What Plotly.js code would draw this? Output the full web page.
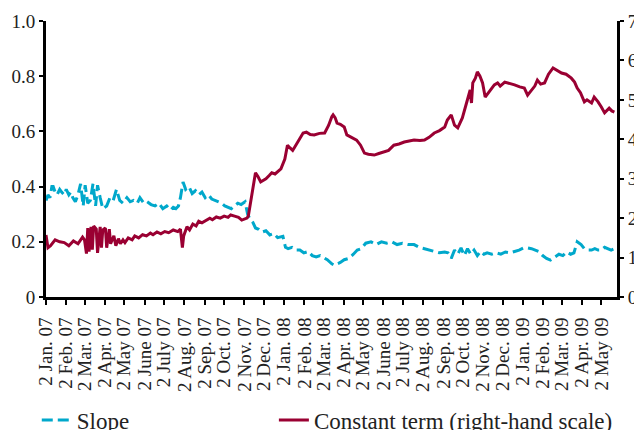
<!DOCTYPE html>
<html>
<head>
<meta charset="utf-8">
<script src="https://cdn.plot.ly/plotly-3.0.1.min.js"></script>
<style>html,body{margin:0;padding:0;background:#fff}#chart{width:634px;height:430px}</style>
</head>
<body>
<div id="chart"></div>
<script>
// Slope (left-hand scale)
const slopeDates = [
'2007-01-02','2007-01-05','2007-01-08','2007-01-11','2007-01-13','2007-01-16','2007-01-19','2007-01-23','2007-01-26','2007-01-30',
'2007-02-02','2007-02-06','2007-02-09','2007-02-12','2007-02-16','2007-02-20','2007-02-24','2007-02-28',
'2007-03-03','2007-03-07','2007-03-11','2007-03-15','2007-03-19','2007-03-22','2007-03-26','2007-03-30',
'2007-04-05','2007-04-10','2007-04-15','2007-04-20','2007-04-25','2007-04-30','2007-05-06','2007-05-11','2007-05-16','2007-05-22','2007-05-26',
'2007-06-01','2007-06-06','2007-06-12','2007-06-18','2007-06-24','2007-06-30','2007-07-06','2007-07-12','2007-07-16','2007-07-20','2007-07-24','2007-07-27',
'2007-07-31','2007-08-04','2007-08-09','2007-08-14','2007-08-19','2007-08-24','2007-08-29','2007-09-03','2007-09-08','2007-09-13','2007-09-18','2007-09-23','2007-09-28',
'2007-10-03','2007-10-08','2007-10-13','2007-10-18','2007-10-23','2007-10-28','2007-11-03','2007-11-07','2007-11-11','2007-11-15','2007-11-19','2007-11-24',
'2007-11-29','2007-12-05','2007-12-11','2007-12-17','2007-12-23','2007-12-31','2008-01-04','2008-01-08','2008-01-14','2008-01-20','2008-01-26',
'2008-02-01','2008-02-08','2008-02-14','2008-02-20','2008-02-26','2008-03-03','2008-03-08','2008-03-15','2008-03-19','2008-03-23','2008-03-28',
'2008-04-03','2008-04-10','2008-04-17','2008-04-23','2008-04-29','2008-05-06','2008-05-14','2008-05-22','2008-05-30','2008-06-07','2008-06-15','2008-06-23','2008-07-01','2008-07-10','2008-07-19',
'2008-07-27','2008-08-04','2008-08-14','2008-08-19','2008-08-27','2008-09-04','2008-09-09','2008-09-14','2008-09-19','2008-09-24','2008-09-29','2008-10-04','2008-10-09','2008-10-14','2008-10-19','2008-10-24','2008-10-29','2008-11-03','2008-11-08',
'2008-11-15','2008-11-22','2008-11-29','2008-12-06','2008-12-13','2008-12-20','2008-12-27','2009-01-03','2009-01-09','2009-01-15',
'2009-01-20','2009-01-26','2009-02-01','2009-02-07','2009-02-13','2009-02-20','2009-02-26','2009-03-04','2009-03-10','2009-03-16','2009-03-21',
'2009-03-26','2009-04-01','2009-04-06','2009-04-11','2009-04-17','2009-04-22','2009-04-27','2009-05-02','2009-05-07','2009-05-12','2009-05-17','2009-05-22'
];
const slopeValues = [
0.35,0.37,0.36,0.40,0.40,0.38,0.37,0.39,0.38,0.37,
0.39,0.37,0.38,0.36,0.345,0.37,0.41,0.33,
0.405,0.34,0.35,0.41,0.33,0.405,0.36,0.32,
0.33,0.36,0.35,0.39,0.35,0.34,0.36,0.345,0.35,0.34,0.36,
0.34,0.345,0.335,0.33,0.34,0.32,0.33,0.315,0.325,0.32,0.33,0.36,
0.417,0.39,0.40,0.375,0.385,0.37,0.38,0.36,0.37,0.355,0.35,0.345,0.34,
0.33,0.325,0.32,0.33,0.34,0.335,0.345,0.30,0.28,0.27,0.25,0.245,
0.235,0.24,0.225,0.23,0.215,0.22,0.18,0.175,0.18,0.17,0.17,
0.16,0.165,0.15,0.145,0.15,0.14,0.135,0.12,0.115,0.12,0.125,
0.135,0.14,0.155,0.17,0.175,0.195,0.2,0.19,0.2,0.195,0.2,0.19,0.195,0.19,0.19,
0.18,0.175,0.17,0.165,0.16,0.163,0.16,0.14,0.17,0.155,0.178,0.15,0.175,0.155,0.17,0.15,0.165,0.155,0.16,
0.155,0.16,0.155,0.163,0.16,0.165,0.17,0.178,0.178,0.175,
0.17,0.165,0.15,0.14,0.134,0.145,0.155,0.15,0.163,0.155,0.16,
0.2,0.19,0.175,0.17,0.17,0.175,0.17,0.17,0.18,0.175,0.17,0.175
];

// Constant term (right-hand scale)
const constDates = [
'2007-01-02','2007-01-05','2007-01-09','2007-01-16','2007-01-23','2007-01-30',
'2007-02-06','2007-02-13','2007-02-20','2007-02-27',
'2007-03-02','2007-03-05','2007-03-07','2007-03-09','2007-03-12','2007-03-14','2007-03-16','2007-03-20','2007-03-22','2007-03-26','2007-03-28','2007-03-30',
'2007-04-03','2007-04-05','2007-04-09','2007-04-11','2007-04-16','2007-04-19','2007-04-23','2007-04-26','2007-04-30',
'2007-05-03','2007-05-08','2007-05-14','2007-05-18','2007-05-24','2007-05-30',
'2007-06-05','2007-06-11','2007-06-15','2007-06-21','2007-06-27',
'2007-07-03','2007-07-09','2007-07-16','2007-07-23','2007-07-27','2007-07-30','2007-08-01',
'2007-08-06','2007-08-10','2007-08-15','2007-08-20','2007-08-24','2007-08-29',
'2007-09-04','2007-09-10','2007-09-14','2007-09-20','2007-09-26',
'2007-10-02','2007-10-08','2007-10-12','2007-10-18','2007-10-24','2007-10-29',
'2007-11-02','2007-11-06','2007-11-08','2007-11-12','2007-11-15','2007-11-19','2007-11-23','2007-11-27','2007-11-30',
'2007-12-05','2007-12-10','2007-12-14','2007-12-19','2007-12-24','2007-12-28',
'2008-01-03','2008-01-07','2008-01-11','2008-01-15','2008-01-18','2008-01-23','2008-01-28','2008-01-31',
'2008-02-05','2008-02-11','2008-02-17','2008-02-25','2008-03-04','2008-03-10','2008-03-15','2008-03-17','2008-03-20','2008-03-23','2008-03-28',
'2008-04-03','2008-04-07','2008-04-14','2008-04-22','2008-04-28','2008-05-04','2008-05-10','2008-05-19','2008-05-26',
'2008-06-03','2008-06-10','2008-06-18','2008-06-26','2008-07-04','2008-07-11','2008-07-19','2008-07-28',
'2008-08-04','2008-08-11','2008-08-19','2008-08-27','2008-09-04','2008-09-08','2008-09-14','2008-09-19','2008-09-24',
'2008-10-01','2008-10-06','2008-10-09','2008-10-13','2008-10-15','2008-10-17','2008-10-21','2008-10-24','2008-10-28',
'2008-11-01','2008-11-05','2008-11-10','2008-11-15','2008-11-19','2008-11-24','2008-11-28',
'2008-12-05','2008-12-12','2008-12-20','2008-12-28','2009-01-04','2009-01-09','2009-01-15','2009-01-20','2009-01-24','2009-01-29',
'2009-02-04','2009-02-10','2009-02-17','2009-02-23','2009-03-02','2009-03-09','2009-03-17','2009-03-22','2009-03-26','2009-03-31',
'2009-04-06','2009-04-10','2009-04-17','2009-04-21','2009-04-27','2009-05-02','2009-05-07','2009-05-14','2009-05-18','2009-05-22'
];
const constValues = [
1.57,1.25,1.30,1.45,1.40,1.38,
1.30,1.42,1.35,1.52,
1.45,1.10,1.75,1.15,1.78,1.20,1.80,1.72,1.12,1.78,1.25,1.70,
1.75,1.25,1.72,1.35,1.55,1.30,1.48,1.35,1.45,
1.38,1.50,1.45,1.55,1.50,1.58,
1.55,1.62,1.58,1.65,1.60,
1.66,1.63,1.70,1.66,1.72,1.25,1.55,
1.78,1.70,1.85,1.80,1.92,1.88,
1.95,2.00,1.96,2.03,2.00,
2.05,2.02,2.08,2.05,2.02,1.95,
1.98,2.00,2.05,2.45,2.80,3.15,3.05,2.92,2.95,
3.00,3.08,3.15,3.12,3.20,3.25,
3.50,3.85,3.78,3.72,3.80,3.95,4.10,4.16,
4.18,4.12,4.11,4.15,4.16,4.35,4.57,4.62,4.55,4.41,4.38,
4.31,4.11,4.05,3.98,3.85,3.65,3.62,3.60,3.64,
3.68,3.72,3.85,3.88,3.93,3.95,3.98,3.97,
3.98,4.05,4.16,4.22,4.31,4.49,4.62,4.36,4.29,
4.54,4.85,5.07,5.25,4.92,5.43,5.55,5.71,5.60,
5.43,5.07,5.18,5.30,5.38,5.43,5.35,
5.45,5.42,5.38,5.33,5.30,5.12,5.25,5.35,5.50,5.40,
5.43,5.65,5.81,5.75,5.68,5.65,5.55,5.45,5.30,5.18,
4.95,5.00,4.92,5.07,4.95,4.82,4.67,4.79,4.72,4.69
];

// Tick labels
const tickDates = [
'2007-01-02','2007-02-02','2007-03-02','2007-04-02','2007-05-02','2007-06-02','2007-07-02','2007-08-02','2007-09-02','2007-10-02','2007-11-02','2007-12-02',
'2008-01-02','2008-02-02','2008-03-02','2008-04-02','2008-05-02','2008-06-02','2008-07-02','2008-08-02','2008-09-02','2008-10-02','2008-11-02','2008-12-02',
'2009-01-02','2009-02-02','2009-03-02','2009-04-02','2009-05-02'
];
const tickLabels = [
'2 Jan. 07','2 Feb. 07','2 Mar. 07','2 Apr. 07','2 May 07','2 June 07','2 July 07','2 Aug. 07','2 Sep. 07','2 Oct. 07','2 Nov. 07','2 Dec. 07',
'2 Jan. 08','2 Feb. 08','2 Mar. 08','2 Apr. 08','2 May 08','2 June 08','2 July 08','2 Aug. 08','2 Sep. 08','2 Oct. 08','2 Nov. 08','2 Dec. 08',
'2 Jan. 09','2 Feb. 09','2 Mar. 09','2 Apr. 09','2 May 09'
];
const leftTicks = [0, 0.2, 0.4, 0.6, 0.8, 1.0];
const leftTickLabels = ['0', '0.2', '0.4', '0.6', '0.8', '1.0'];
const rightTicks = [0, 1, 2, 3, 4, 5, 6, 7];

const FONT = '"Liberation Serif", "Times New Roman", serif';
const legendFont = {family: FONT, size: 23, color: '#222'};

const traces = [
  {x: slopeDates, y: slopeValues, name: 'Slope', type: 'scatter', mode: 'lines',
   line: {color: '#00A8CB', width: 3, dash: '11px,5px'}, yaxis: 'y', legend: 'legend'},
  {x: constDates, y: constValues, name: 'Constant term (right-hand scale)', type: 'scatter', mode: 'lines',
   line: {color: '#9A0032', width: 3}, yaxis: 'y2', legend: 'legend2'}
];

const layout = {
  width: 634, height: 430,
  margin: {l: 46, r: 17, t: 21, b: 133},
  paper_bgcolor: '#fff', plot_bgcolor: '#fff',
  font: {family: FONT, size: 19, color: '#222'},
  showlegend: true,
  legend: {orientation: 'h', xref: 'container', yref: 'container', x: 0.058, xanchor: 'left', y: 0.023, yanchor: 'middle',
           font: legendFont, bgcolor: 'rgba(0,0,0,0)'},
  legend2: {orientation: 'h', xref: 'container', yref: 'container', x: 0.432, xanchor: 'left', y: 0.023, yanchor: 'middle',
            font: legendFont, bgcolor: 'rgba(0,0,0,0)'},
  xaxis: {type: 'date', range: ['2007-01-02', '2009-05-26'], tickmode: 'array', tickvals: tickDates, ticktext: tickLabels,
          tickangle: -90, showgrid: false, zeroline: false, showline: true, linecolor: '#000', linewidth: 3,
          ticks: 'outside', ticklen: 5, tickwidth: 2, tickcolor: '#000', ticklabelstandoff: 5, automargin: false,
          tickfont: {family: FONT, size: 19, color: '#222'}},
  yaxis: {range: [0, 1], tickmode: 'array', tickvals: leftTicks, ticktext: leftTickLabels, showgrid: false, zeroline: false,
          showline: true, linecolor: '#000', linewidth: 3, ticks: 'outside', ticklen: 4, tickwidth: 2, tickcolor: '#000',
          automargin: false, tickfont: {family: FONT, size: 19, color: '#222'}},
  yaxis2: {range: [0, 7], tickmode: 'array', tickvals: rightTicks, overlaying: 'y', side: 'right', showgrid: false, zeroline: false,
           showline: true, linecolor: '#000', linewidth: 3, ticks: 'outside', ticklen: 4, tickwidth: 2, tickcolor: '#000',
           automargin: false, tickfont: {family: FONT, size: 19, color: '#222'}}
};

Plotly.newPlot('chart', traces, layout, {displayModeBar: false, staticPlot: true});
</script>
</body>
</html>
